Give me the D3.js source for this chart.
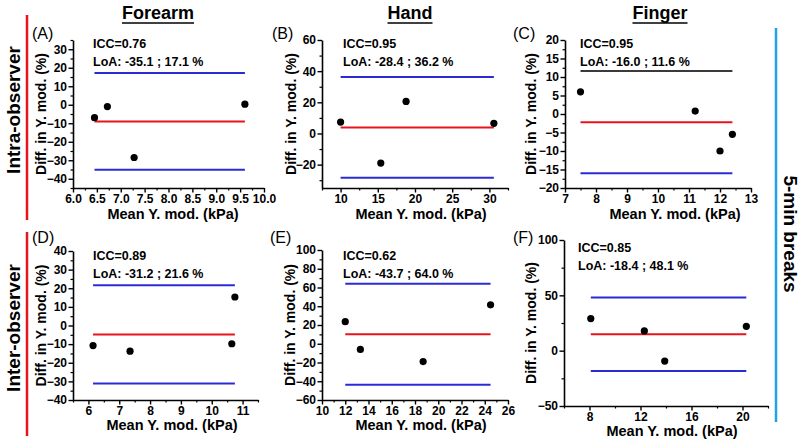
<!DOCTYPE html>
<html>
<head>
<meta charset="utf-8">
<script src="https://cdn.jsdelivr.net/npm/d3@7/dist/d3.min.js"></script>
<style>
  html, body { margin: 0; padding: 0; background: #fff; }
  svg { display: block; font-family: "Liberation Sans", Arial, sans-serif; }
</style>
</head>
<body>
<svg id="chart" width="800" height="440"></svg>
<script>
// ---------------- DATA ----------------
const columnTitles = ["Forearm", "Hand", "Finger"];
const rowTitles = ["Intra-observer", "Inter-observer"];
const sideTitle = "5-min breaks";
const panelLetters = ["(A)", "(B)", "(C)", "(D)", "(E)", "(F)"];
const iccValues = ["0.76", "0.95", "0.95", "0.89", "0.62", "0.85"];
const loaLow = [-35.1, -28.4, -16.0, -31.2, -43.7, -18.4];
const loaHigh = [17.1, 36.2, 11.6, 21.6, 64.0, 48.1];
const biasValues = [-9.0, 3.9, -2.2, -4.8, 10.15, 14.85];

const meanA = [6.45, 6.72, 7.28, 9.6];
const diffA = [-7.0, -1.0, -28.5, 0.3];
const meanB = [10.0, 15.4, 18.8, 30.6];
const diffB = [7.3, -19.0, 20.6, 6.5];
const meanC = [7.5, 11.2, 12.0, 12.4];
const diffC = [6.0, 0.8, -10.0, -5.5];
const meanD = [6.15, 7.35, 10.65, 10.75];
const diffD = [-10.8, -13.8, -9.8, 15.3];
const meanE = [12.0, 13.3, 18.7, 24.5];
const diffE = [23.5, -6.0, -19.0, 41.5];
const meanF = [8.1, 12.3, 13.9, 20.3];
const diffF = [29.0, 17.8, -9.4, 22.0];

const xDomains = [[6, 10], [7.5, 32.5], [7, 13], [5.5, 11.5], [10, 26], [6, 22]];
const yDomains = [[-45, 35], [-35, 60], [-20, 20], [-40, 40], [-60, 100], [-50, 100]];
const xTicks = [
  [6.0, 6.5, 7.0, 7.5, 8.0, 8.5, 9.0, 9.5, 10.0],
  [10, 15, 20, 25, 30],
  [7, 8, 9, 10, 11, 12, 13],
  [6, 7, 8, 9, 10, 11],
  [10, 12, 14, 16, 18, 20, 22, 24, 26],
  [8, 12, 16, 20]
];
const xMinorTicks = [
  [6.25, 6.75, 7.25, 7.75, 8.25, 8.75, 9.25, 9.75],
  [7.5, 12.5, 17.5, 22.5, 27.5, 32.5],
  [7.5, 8.5, 9.5, 10.5, 11.5, 12.5],
  [5.5, 6.5, 7.5, 8.5, 9.5, 10.5, 11.5],
  [11, 13, 15, 17, 19, 21, 23, 25],
  [6, 10, 14, 18, 22]
];
const yTicks = [
  [-40, -30, -20, -10, 0, 10, 20, 30],
  [-20, 0, 20, 40, 60],
  [-20, -15, -10, -5, 0, 5, 10, 15, 20],
  [-40, -30, -20, -10, 0, 10, 20, 30, 40],
  [-60, -40, -20, 0, 20, 40, 60, 80, 100],
  [-50, 0, 50, 100]
];
const yMinorTicks = [
  [-45, -35, -25, -15, -5, 5, 15, 25, 35],
  [-30, -10, 10, 30, 50],
  [-17.5, -12.5, -7.5, -2.5, 2.5, 7.5, 12.5, 17.5],
  [-35, -25, -15, -5, 5, 15, 25, 35],
  [-50, -30, -10, 10, 30, 50, 70, 90],
  [-25, 25, 75]
];
const xTickFormats = [".1f", "d", "d", "d", "d", "d"];
const xAxisTitle = "Mean Y. mod. (kPa)";
const yAxisTitle = "Diff. in Y. mod. (%)";

const means = [meanA, meanB, meanC, meanD, meanE, meanF];
const diffs = [diffA, diffB, diffC, diffD, diffE, diffF];

// ---------------- LAYOUT ----------------
const layout = [
  { l: 73,  r: 264, b: 188, t: 40,  letter: [32, 39],   icc: [93, 48],  yt: 41,  xt: [173, 214] },
  { l: 322, r: 508, b: 188, t: 40,  letter: [272, 39],  icc: [343, 48], yt: 291, xt: [421, 214] },
  { l: 565, r: 751, b: 188, t: 40,  letter: [513, 39],  icc: [580, 48], yt: 531, xt: [675, 214] },
  { l: 73,  r: 258, b: 400, t: 251, letter: [32, 243],  icc: [93, 260], yt: 41,  xt: [172, 425] },
  { l: 322, r: 508, b: 400, t: 250, letter: [270, 243], icc: [343, 260], yt: 290, xt: [421, 425] },
  { l: 564, r: 768, b: 406, t: 240, letter: [513, 243], icc: [578, 252], yt: 531, xt: [672, 431] }
];
const topLoaColors = ["#2b2bd6", "#2b2bd6", "#3a3a3a", "#2b2bd6", "#2b2bd6", "#2b2bd6"];

const svg = d3.select("#chart");

// Column titles
const colCenters = [158, 410, 660];
columnTitles.forEach((t, i) => {
  const txt = svg.append("text")
    .attr("x", colCenters[i]).attr("y", 19)
    .attr("text-anchor", "middle")
    .attr("font-size", 18).attr("font-weight", "bold")
    .text(t);
  const w = txt.node().getComputedTextLength();
  svg.append("line")
    .attr("x1", colCenters[i] - w / 2).attr("x2", colCenters[i] + w / 2)
    .attr("y1", 23).attr("y2", 23)
    .attr("stroke", "#000").attr("stroke-width", 1.6);
});

// Row decorations
svg.append("line").attr("x1", 27).attr("x2", 27).attr("y1", 15).attr("y2", 220)
  .attr("stroke", "#e8141c").attr("stroke-width", 2.5);
svg.append("line").attr("x1", 27).attr("x2", 27).attr("y1", 232).attr("y2", 436)
  .attr("stroke", "#e8141c").attr("stroke-width", 2.5);
[[13, 110], [13, 328]].forEach((p, i) => {
  svg.append("text")
    .attr("transform", `translate(${p[0]},${p[1]}) rotate(-90)`)
    .attr("text-anchor", "middle").attr("dominant-baseline", "central")
    .attr("font-size", 19).attr("font-weight", "bold")
    .text(rowTitles[i]);
});
svg.append("line").attr("x1", 776).attr("x2", 776).attr("y1", 28).attr("y2", 422)
  .attr("stroke", "#1ca3e8").attr("stroke-width", 2.5);
svg.append("text")
  .attr("transform", `translate(790,234) rotate(90)`)
  .attr("text-anchor", "middle").attr("dominant-baseline", "central")
  .attr("font-size", 19).attr("font-weight", "bold")
  .text(sideTitle);

// Panels
layout.forEach((L, i) => {
  const g = svg.append("g");
  const x = d3.scaleLinear().domain(xDomains[i]).range([L.l, L.r]);
  const y = d3.scaleLinear().domain(yDomains[i]).range([L.b, L.t]);

  // minor ticks
  g.append("g").attr("transform", `translate(0,${L.b})`)
    .call(d3.axisBottom(x).tickValues(xMinorTicks[i]).tickSize(2.5).tickSizeOuter(0).tickFormat(""))
    .call(a => a.select(".domain").remove())
    .call(a => a.selectAll("line").attr("stroke-width", 1.2));
  g.append("g").attr("transform", `translate(${L.l},0)`)
    .call(d3.axisLeft(y).tickValues(yMinorTicks[i]).tickSize(2.5).tickSizeOuter(0).tickFormat(""))
    .call(a => a.select(".domain").remove())
    .call(a => a.selectAll("line").attr("stroke-width", 1.2));

  // major axes
  const fmt = d3.format(xTickFormats[i]);
  g.append("g").attr("transform", `translate(0,${L.b})`)
    .call(d3.axisBottom(x).tickValues(xTicks[i]).tickSize(4.5).tickSizeOuter(0).tickPadding(1.5).tickFormat(fmt))
    .call(a => a.select(".domain").attr("stroke-width", 1.6))
    .call(a => a.selectAll("line").attr("stroke-width", 1.4))
    .call(a => a.selectAll("text").attr("font-size", 12).attr("font-weight", "bold")
      .attr("font-family", "Liberation Sans, Arial, sans-serif").attr("fill", "#000"));
  g.append("g").attr("transform", `translate(${L.l},0)`)
    .call(d3.axisLeft(y).tickValues(yTicks[i]).tickSize(4.5).tickSizeOuter(0).tickPadding(1.5).tickFormat(d3.format("d")))
    .call(a => a.select(".domain").attr("stroke-width", 1.6))
    .call(a => a.selectAll("line").attr("stroke-width", 1.4))
    .call(a => a.selectAll("text").attr("font-size", 12).attr("font-weight", "bold")
      .attr("font-family", "Liberation Sans, Arial, sans-serif").attr("fill", "#000"));

  // LoA and bias lines
  const xs = d3.extent(means[i]);
  const lines = [
    { v: loaHigh[i], c: topLoaColors[i] },
    { v: biasValues[i], c: "#e8141c" },
    { v: loaLow[i], c: "#2b2bd6" }
  ];
  lines.forEach(ln => {
    g.append("line")
      .attr("x1", x(xs[0])).attr("x2", x(xs[1]))
      .attr("y1", y(ln.v)).attr("y2", y(ln.v))
      .attr("stroke", ln.c).attr("stroke-width", 2);
  });

  // points
  g.selectAll("circle.pt").data(means[i].map((m, k) => [m, diffs[i][k]]))
    .enter().append("circle")
    .attr("cx", d => x(d[0])).attr("cy", d => y(d[1]))
    .attr("r", 3.6).attr("fill", "#000");

  // annotations
  g.append("text").attr("x", L.icc[0]).attr("y", L.icc[1])
    .attr("font-size", 12.5).attr("font-weight", "bold")
    .text(`ICC=${iccValues[i]}`);
  g.append("text").attr("x", L.icc[0]).attr("y", L.icc[1] + 18)
    .attr("font-size", 12.5).attr("font-weight", "bold")
    .text(`LoA: ${loaLow[i].toFixed(1)} ; ${loaHigh[i].toFixed(1)} %`);

  // panel letter
  g.append("text").attr("x", L.letter[0]).attr("y", L.letter[1])
    .attr("font-size", 16)
    .text(panelLetters[i]);

  // axis titles
  g.append("text")
    .attr("transform", `translate(${L.yt},${(L.t + L.b) / 2}) rotate(-90)`)
    .attr("text-anchor", "middle").attr("dominant-baseline", "central")
    .attr("font-size", 14).attr("font-weight", "bold")
    .text(yAxisTitle);
  g.append("text")
    .attr("x", L.xt[0]).attr("y", L.xt[1])
    .attr("text-anchor", "middle").attr("dominant-baseline", "central")
    .attr("font-size", 14.5).attr("font-weight", "bold")
    .text(xAxisTitle);
});
</script>
</body>
</html>
